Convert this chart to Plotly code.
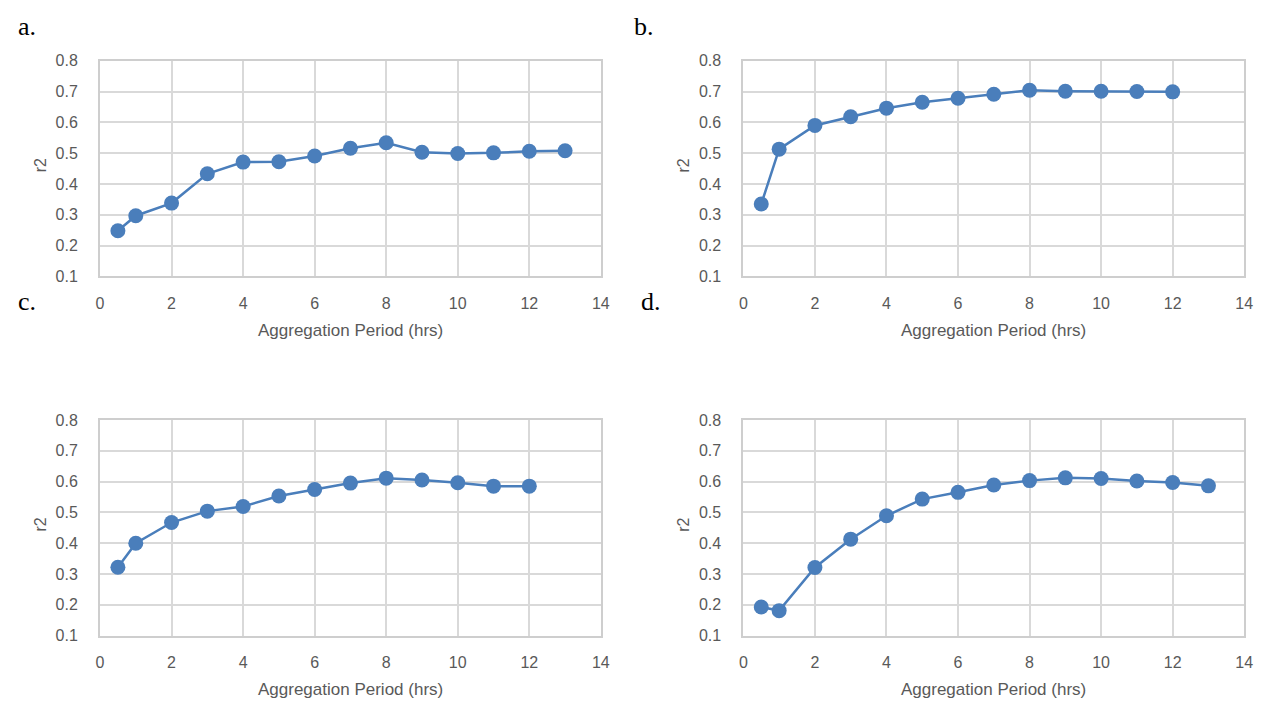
import plotly.graph_objects as go

# Data
x_a = [0.5, 1, 2, 3, 4, 5, 6, 7, 8, 9, 10, 11, 12, 13]
r2_a = [0.248, 0.297, 0.338, 0.433, 0.471, 0.472, 0.491, 0.516, 0.534, 0.503, 0.499, 0.501, 0.506, 0.508]

x_b = [0.5, 1, 2, 3, 4, 5, 6, 7, 8, 9, 10, 11, 12]
r2_b = [0.335, 0.513, 0.590, 0.618, 0.646, 0.665, 0.678, 0.691, 0.704, 0.701, 0.701, 0.700, 0.699]

x_c = [0.5, 1, 2, 3, 4, 5, 6, 7, 8, 9, 10, 11, 12]
r2_c = [0.322, 0.400, 0.467, 0.504, 0.519, 0.553, 0.574, 0.595, 0.611, 0.605, 0.596, 0.585, 0.585]

x_d = [0.5, 1, 2, 3, 4, 5, 6, 7, 8, 9, 10, 11, 12, 13]
r2_d = [0.193, 0.181, 0.321, 0.413, 0.489, 0.543, 0.565, 0.589, 0.603, 0.612, 0.610, 0.602, 0.597, 0.586]

panel_labels = ["a.", "b.", "c.", "d."]
x_title = "Aggregation Period (hrs)"
y_title = "r2"

W, H = 1273, 711
BLUE = "#4a7ebb"
GRID = "#d9d9d9"
AXIS = "#cecece"
TICK = "#595959"
FONT = "Liberation Sans"

# Pixel layout of each plot area: (left, right, top, bottom)
boxes = [(97, 603, 54, 275), (747, 1253, 54, 275), (97, 603, 422, 643), (747, 1253, 422, 643)]
series = [(x_a, r2_a), (x_b, r2_b), (x_c, r2_c), (x_d, r2_d)]
label_pos = [(12, 19), (634, 19), (12, 301), (642, 301)]

fig = go.Figure()
annotations = []
for i, ((xs, ys), (l, r, t, b)) in enumerate(zip(series, boxes)):
    n = "" if i == 0 else str(i + 1)
    fig.add_trace(go.Scatter(
        x=xs, y=ys, mode="lines+markers",
        line=dict(color=BLUE, width=2.5),
        marker=dict(color=BLUE, size=15),
        xaxis="x" + n, yaxis="y" + n, showlegend=False, hoverinfo="skip"))
    common = dict(showgrid=True, gridcolor=GRID, gridwidth=2, zeroline=False,
                  showline=True, linecolor=AXIS, linewidth=2, mirror=True,
                  tickfont=dict(family=FONT, size=16, color=TICK),
                  ticks="", fixedrange=True)
    fig.update_layout(**{
        "xaxis" + n: dict(domain=[l / W, r / W], range=[0, 14], dtick=2, tick0=0,
                          anchor="y" + n, ticklabelstandoff=11, **common),
        "yaxis" + n: dict(domain=[1 - b / H, 1 - t / H], range=[0.1, 0.8], dtick=0.1, tick0=0.1,
                          tickformat=".1f", anchor="x" + n, ticklabelstandoff=17, **common),
    })
    annotations.append(dict(text=x_title, x=(l + r) / 2 / W, y=1 - (b + 55) / H,
                            xref="paper", yref="paper", xanchor="center", yanchor="middle",
                            showarrow=False,
                            font=dict(family=FONT, size=17, color=TICK)))
    annotations.append(dict(text=y_title, x=(l - 60) / W, y=1 - ((t + b) / 2 - 3) / H,
                            xref="paper", yref="paper", xanchor="center", yanchor="middle",
                            showarrow=False, textangle=-90,
                            font=dict(family=FONT, size=16, color=TICK)))
    lx, ly = label_pos[i]
    annotations.append(dict(text=panel_labels[i], x=lx / W, y=1 - ly / H,
                            xref="paper", yref="paper", xanchor="left", yanchor="middle",
                            showarrow=False,
                            font=dict(family="Liberation Serif", size=26, color="black")))

fig.update_layout(width=W, height=H, margin=dict(l=0, r=0, t=0, b=0),
                  paper_bgcolor="white", plot_bgcolor="white",
                  annotations=annotations)
fig.write_html("out.html")

# remove the default page margin so the figure sits at (0, 0)
with open("out.html", encoding="utf-8") as f:
    html = f.read()
html = html.replace("<head>", "<head><style>html,body{margin:0;padding:0;overflow:hidden;}</style>", 1)
with open("out.html", "w", encoding="utf-8") as f:
    f.write(html)
